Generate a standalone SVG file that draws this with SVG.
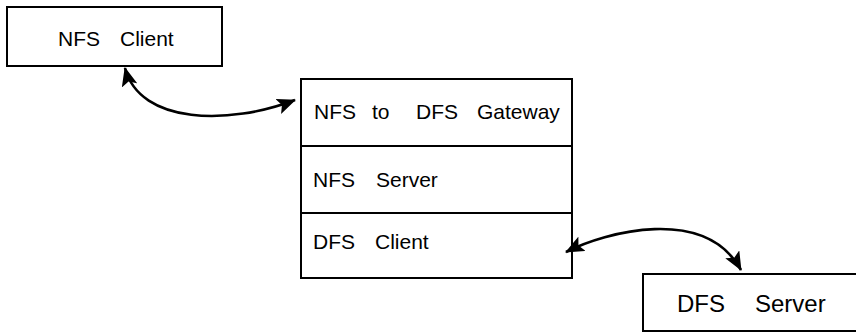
<svg xmlns="http://www.w3.org/2000/svg" width="856" height="333" viewBox="0 0 856 333">
<style>
.box{fill:#fff;stroke:#000;stroke-width:2}
.lbl{font-family:"Liberation Sans",Arial,sans-serif;font-size:21px;fill:#000}
.big{font-size:24px}
.conn{fill:none;stroke:#000;stroke-width:2.6}
</style>
<defs>
<marker id="ah" markerUnits="userSpaceOnUse" markerWidth="20" markerHeight="16" refX="18" refY="8" orient="auto-start-reverse" viewBox="0 0 20 16">
<path d="M0,0 L19,8 L0,16 L4,8 z" fill="#000"/>
</marker>
</defs>
<rect width="856" height="333" fill="#fff"/>
<g id="nfs-client">
<rect class="box" x="7" y="7" width="215" height="59"/>
<text class="lbl"><tspan x="58" y="46">NFS</tspan><tspan x="120" y="46">Client</tspan></text>
</g>
<g id="gateway">
<rect class="box" x="301" y="79" width="271" height="199"/>
<line class="box" x1="301" y1="146" x2="572" y2="146"/>
<line class="box" x1="301" y1="213" x2="572" y2="213"/>
<text class="lbl"><tspan x="314" y="119">NFS</tspan><tspan x="372" y="119">to</tspan><tspan x="416" y="119">DFS</tspan><tspan x="477" y="119">Gateway</tspan></text>
<text class="lbl"><tspan x="313" y="187">NFS</tspan><tspan x="376" y="187">Server</tspan></text>
<text class="lbl"><tspan x="313" y="249">DFS</tspan><tspan x="375" y="249">Client</tspan></text>
</g>
<g id="dfs-server">
<rect class="box" x="643" y="274" width="220" height="57"/>
<text class="lbl big"><tspan x="677" y="312">DFS</tspan><tspan x="755" y="312">Server</tspan></text>
</g>
<g id="connectors">
<path class="conn" d="M125,68 C140,125 230,125 295,100" marker-start="url(#ah)" marker-end="url(#ah)"/>
<path class="conn" d="M566,252 C605,232 705,205 741,270" marker-start="url(#ah)" marker-end="url(#ah)"/>
</g>
</svg>
